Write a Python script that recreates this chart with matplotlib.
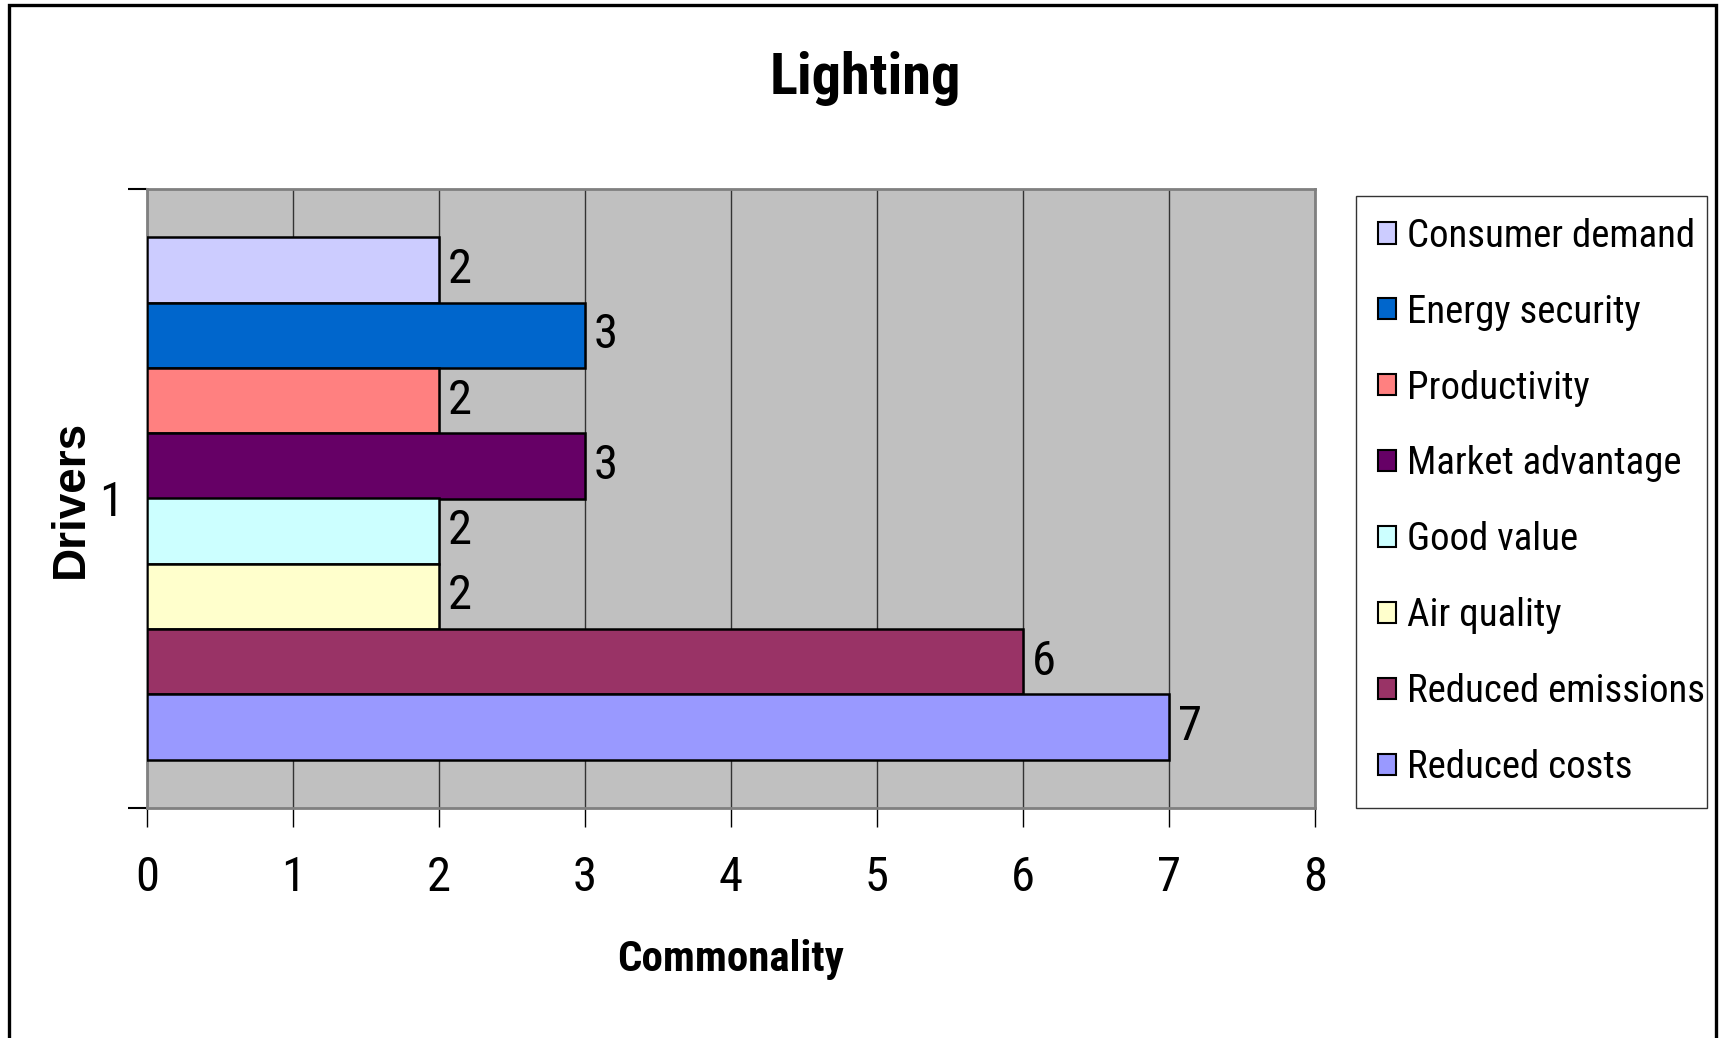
import matplotlib
matplotlib.use("Agg")
import matplotlib.pyplot as plt
from matplotlib.patches import Rectangle, Patch
import numpy as np

# Data
categories = ["1"]
series = ["Consumer demand", "Energy security", "Productivity", "Market advantage",
          "Good value", "Air quality", "Reduced emissions", "Reduced costs"]
values = [2, 3, 2, 3, 2, 2, 6, 7]
colors = ["#CCCCFF", "#0066CC", "#FF8080", "#660066",
          "#CCFFFF", "#FFFFCC", "#993366", "#9999FF"]
xticks = [0, 1, 2, 3, 4, 5, 6, 7, 8]

NARROW = ["Roboto Condensed", "Archivo Narrow", "PT Sans Narrow",
          "IBM Plex Sans Condensed", "Liberation Sans", "DejaVu Sans"]
plt.rcParams["font.family"] = NARROW

W, H = 1725, 1038
fig = plt.figure(figsize=(W / 100, H / 100), dpi=100)
ax = fig.add_axes([147 / W, 1 - 808 / H, (1315 - 147) / W, (808 - 189) / H])
ax.set_facecolor("#C0C0C0")

n = len(series)
group = 0.844
h = group / n
for i, (name, v, c) in enumerate(zip(series, values, colors)):
    y = (n - 1) / 2 * h - i * h
    ax.barh(y, v, height=h, color=c, edgecolor="black", linewidth=1.8,
            label=name, zorder=3)
    ax.text(v + 0.06, y, str(v), va="center", ha="left", fontsize=35, zorder=4)

ax.set_xlim(0, 8)
ax.set_ylim(-0.5, 0.5)
ax.set_xticks(xticks)
ax.set_xticklabels([str(t) for t in xticks], fontsize=35)
ax.tick_params(axis="x", length=14, width=1, direction="out", pad=20, color="black")
ax.set_yticks([0])
ax.set_yticklabels(categories, fontsize=35)
ax.tick_params(axis="y", which="major", length=0, pad=17)
ax.set_yticks([-0.5, 0.5], minor=True)
ax.tick_params(axis="y", which="minor", length=14, width=1.5, color="black")

ax.grid(axis="x", color="#333333", linewidth=1, zorder=1)
ax.set_axisbelow(True)
for s in ax.spines.values():
    s.set_color("#808080")
    s.set_linewidth(2)

ax.set_xlabel("Commonality", fontsize=31, fontweight="bold", labelpad=27)
ax.set_ylabel("Drivers", fontsize=33, fontweight="bold", va="center",
              family=["Liberation Sans", "DejaVu Sans"])
ax.yaxis.set_label_coords(-0.065, 0.5)

fig.text(865 / W, 1 - 79 / H, "Lighting", fontsize=42, fontweight="bold",
         ha="center", va="center")

handles = [Patch(facecolor=c, edgecolor="black", linewidth=1.5) for c in colors]
leg = fig.legend(handles, series, loc="upper left", mode="expand",
                 bbox_to_anchor=(1356 / W, 1 - 801 / H, 351 / W, 605 / H),
                 fontsize=28, frameon=True, fancybox=False, edgecolor="black",
                 handlelength=0.46, handleheight=0.46, handletextpad=0.3,
                 labelspacing=1.0, borderpad=0.56, borderaxespad=0)
leg.get_frame().set_linewidth(1)

fig.patches.append(Rectangle((9 / W, -0.05), (1716 - 9) / W, 1.05 - 5 / H,
                             transform=fig.transFigure, fill=False,
                             edgecolor="black", linewidth=2.4))

fig.savefig("out.png", dpi=100)
